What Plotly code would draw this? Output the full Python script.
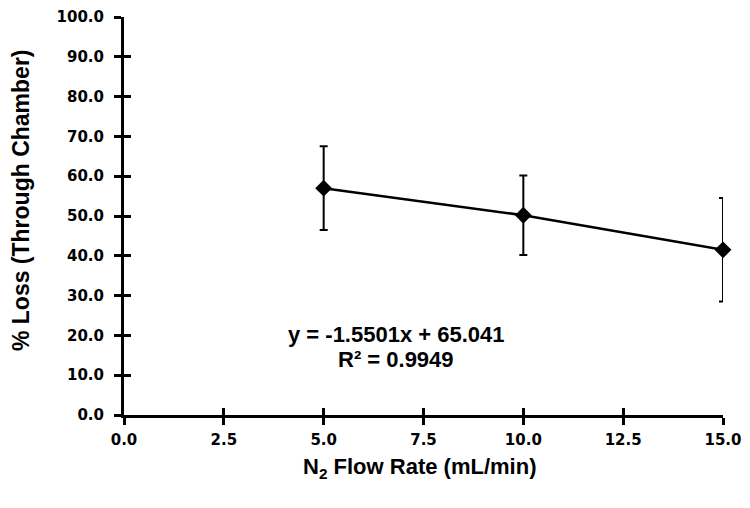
import plotly.graph_objects as go

flow_rate = [5.0, 10.0, 15.0]
pct_loss = [57.0, 50.2, 41.5]
pct_err = [10.5, 10.0, 13.0]

x_ticks = [0, 2.5, 5, 7.5, 10, 12.5, 15]
y_ticks = [0, 10, 20, 30, 40, 50, 60, 70, 80, 90, 100]

fit_eq = "y = -1.5501x + 65.041"
fit_r2 = "R² = 0.9949"

tick_font = dict(family="DejaVu Sans", size=15, color="black", weight="bold")
label_font = dict(family="Liberation Sans, Arial", size=22, color="black", weight="bold")

fig = go.Figure()

fig.add_trace(go.Scatter(
    x=flow_rate, y=pct_loss,
    mode="lines+markers",
    line=dict(color="black", width=2.5),
    marker=dict(symbol="diamond", size=13, color="black"),
    error_y=dict(type="data", array=pct_err, color="black", thickness=2, width=4),
    cliponaxis=False,
    showlegend=False,
))

axis_common = dict(showgrid=False, zeroline=False, showline=True, automargin=False,
                   linecolor="black", linewidth=3, tickcolor="black",
                   tickwidth=2.5, ticklen=7, tickfont=tick_font,
                   ticklabeloverflow="allow")

# page body adds a small offset, so the figure is a bit smaller than the window
fig.update_layout(
    width=742, height=500,
    margin=dict(l=116, r=27, t=9, b=93),
    paper_bgcolor="white", plot_bgcolor="white",
    xaxis=dict(range=[0, 15], tickvals=x_ticks, tickformat=".1f",
               ticks="outside", ticklabelstandoff=2, **axis_common),
    yaxis=dict(range=[0, 100], tickvals=y_ticks, tickformat=".1f",
               ticks="outside", ticklabelstandoff=7, **axis_common),
    # inside ticks so the marks cross the axis line
    xaxis2=dict(range=[0, 15], tickvals=x_ticks, ticks="inside", overlaying="x",
                showticklabels=False, showgrid=False, zeroline=False, automargin=False,
                tickcolor="black", tickwidth=2.5, ticklen=7, side="bottom"),
    yaxis2=dict(range=[0, 100], tickvals=y_ticks, ticks="inside", overlaying="y",
                showticklabels=False, showgrid=False, zeroline=False, automargin=False,
                tickcolor="black", tickwidth=2.5, ticklen=7, side="left"),
)

fig.add_trace(go.Scatter(x=[0], y=[0], xaxis="x2", yaxis="y2", mode="markers",
                         marker=dict(opacity=0), hoverinfo="skip", showlegend=False))

fig.add_annotation(x=6.82, y=20.25, xref="x", yref="y", text=fit_eq,
                   showarrow=False, font=label_font)
fig.add_annotation(x=6.82, y=14.0, xref="x", yref="y", text=fit_r2,
                   showarrow=False, font=label_font)

fig.add_annotation(x=0.493, y=-0.1325, xref="paper", yref="paper",
                   text="N<sub>2</sub> Flow Rate (mL/min)", showarrow=False,
                   font=label_font, yanchor="middle")
fig.add_annotation(x=-0.172, y=0.54, xref="paper", yref="paper",
                   text="% Loss (Through Chamber)", showarrow=False,
                   font=dict(label_font, size=23), textangle=-90, xanchor="center")

fig.write_html("out.html")
